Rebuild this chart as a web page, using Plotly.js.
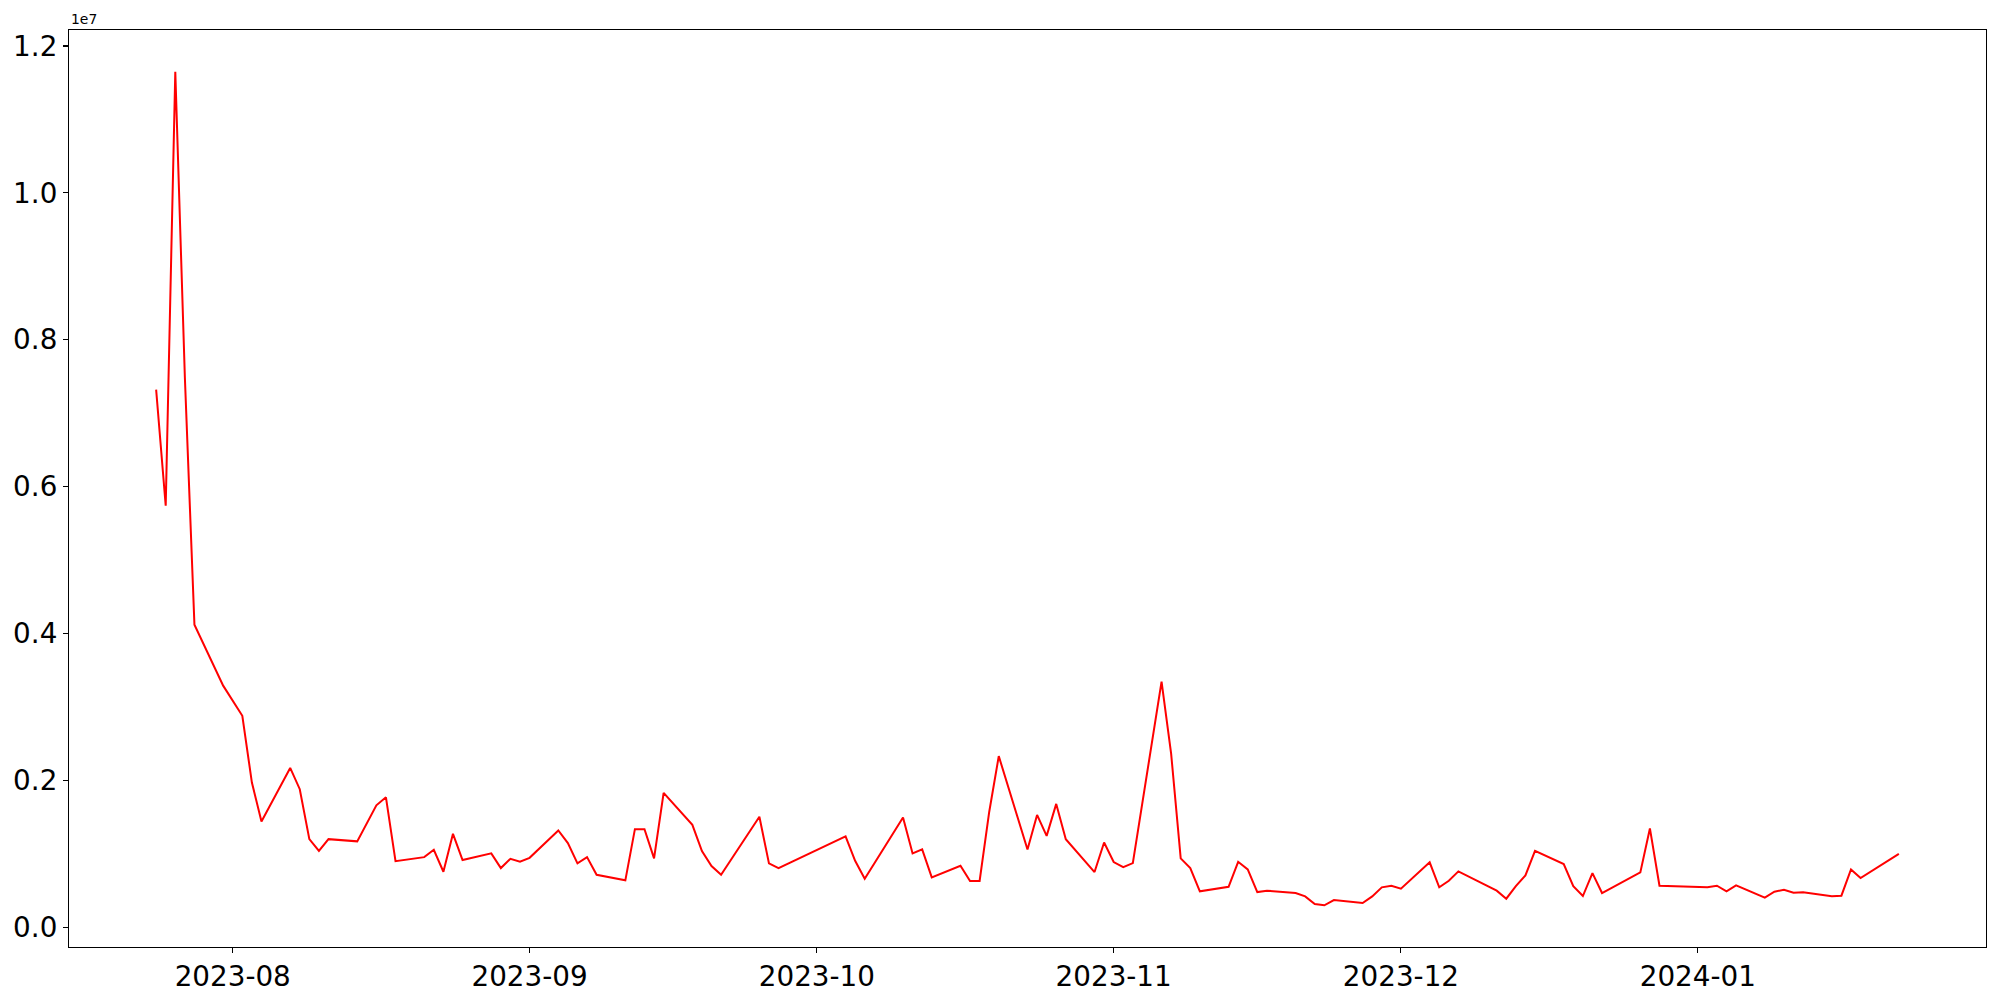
<!DOCTYPE html>
<html>
<head>
<meta charset="utf-8">
<script src="https://cdn.plot.ly/plotly-3.0.1.min.js"></script>
<style>html,body{margin:0;padding:0;background:#fff;}#chart{width:2000px;height:1000px;}</style>
</head>
<body>
<div id="chart"></div>
<script>
const dates = [
  "2023-07-24","2023-07-25","2023-07-26","2023-07-27","2023-07-28","2023-07-31",
  "2023-08-02","2023-08-03","2023-08-04","2023-08-07","2023-08-08","2023-08-09","2023-08-10","2023-08-11",
  "2023-08-14","2023-08-16","2023-08-17","2023-08-18","2023-08-21","2023-08-22","2023-08-23","2023-08-24","2023-08-25",
  "2023-08-28","2023-08-29","2023-08-30","2023-08-31","2023-09-01","2023-09-04","2023-09-05","2023-09-06","2023-09-07","2023-09-08",
  "2023-09-11","2023-09-12","2023-09-13","2023-09-14","2023-09-15","2023-09-18","2023-09-19","2023-09-20","2023-09-21",
  "2023-09-25","2023-09-26","2023-09-27","2023-10-04","2023-10-05","2023-10-06","2023-10-10","2023-10-11","2023-10-12","2023-10-13",
  "2023-10-16","2023-10-17","2023-10-18","2023-10-19","2023-10-20","2023-10-23","2023-10-24","2023-10-25","2023-10-26","2023-10-27",
  "2023-10-30","2023-10-31","2023-11-01","2023-11-02","2023-11-03","2023-11-06","2023-11-07","2023-11-08","2023-11-09","2023-11-10",
  "2023-11-13","2023-11-14","2023-11-15","2023-11-16","2023-11-17","2023-11-20","2023-11-21","2023-11-22","2023-11-23","2023-11-24",
  "2023-11-27","2023-11-28","2023-11-29","2023-11-30","2023-12-01","2023-12-04","2023-12-05","2023-12-06","2023-12-07",
  "2023-12-11","2023-12-12","2023-12-13","2023-12-14","2023-12-15","2023-12-18","2023-12-19","2023-12-20","2023-12-21","2023-12-22",
  "2023-12-26","2023-12-27","2023-12-28","2024-01-02","2024-01-03","2024-01-04","2024-01-05","2024-01-08","2024-01-09","2024-01-10",
  "2024-01-11","2024-01-12","2024-01-15","2024-01-16","2024-01-17","2024-01-18","2024-01-22"
];
const values = [
  7320000,5740000,11650000,7490000,4120000,3290000,
  2880000,1970000,1440000,2170000,1880000,1200000,1040000,1200000,
  1170000,1660000,1770000,900000,955000,1055000,756000,1273000,915000,
  1006000,806000,933000,892000,946000,1318000,1146000,870000,955000,715000,
  639000,1336000,1336000,938000,1830000,1395000,1037000,833000,715000,
  1504000,870000,806000,1237000,905000,660000,1495000,1006000,1060000,680000,
  838000,630000,630000,1570000,2330000,1060000,1530000,1245000,1680000,1200000,
  752000,1155000,888000,820000,874000,3344000,2365000,938000,806000,489000,
  552000,892000,788000,480000,498000,466000,421000,317000,299000,371000,
  330000,421000,544000,566000,525000,884000,544000,634000,761000,
  498000,389000,561000,707000,1041000,861000,561000,425000,738000,466000,
  748000,1346000,566000,544000,566000,489000,571000,403000,484000,511000,
  471000,476000,421000,430000,788000,670000,1000000
];
const yTickVals = [0, 2000000, 4000000, 6000000, 8000000, 10000000, 12000000];
const yTickText = ["0.0", "0.2", "0.4", "0.6", "0.8", "1.0", "1.2"];
const offsetLabel = "1e7";

const trace = {
  x: dates, y: values, type: "scatter", mode: "lines",
  line: {color: "red", width: 2}, hoverinfo: "x+y"
};
const tickFont = {family: "DejaVu Sans", size: 27.8, color: "black"};
const layout = {
  width: 2000, height: 1000,
  margin: {l: 69, r: 14, t: 30, b: 53, pad: 0},
  paper_bgcolor: "white", plot_bgcolor: "white",
  showlegend: false,
  font: {family: "DejaVu Sans", color: "black"},
  xaxis: {
    type: "date",
    range: ["2023-07-14 21:36", "2024-01-31 02:24"],
    dtick: "M1", tick0: "2023-08-01", tickformat: "%Y-%m",
    ticks: "outside", ticklen: 5, tickwidth: 1.1, tickcolor: "black",
    showgrid: false, zeroline: false,
    showline: true, mirror: true, linecolor: "black", linewidth: 1.1,
    tickfont: tickFont
  },
  yaxis: {
    range: [-268550, 12217550],
    tickmode: "array", tickvals: yTickVals, ticktext: yTickText,
    ticks: "outside", ticklen: 5, tickwidth: 1.1, tickcolor: "black",
    showgrid: false, zeroline: false,
    showline: true, mirror: true, linecolor: "black", linewidth: 1.1,
    tickfont: tickFont
  },
  annotations: [{
    text: offsetLabel, xref: "paper", yref: "paper", x: 0, y: 1,
    xanchor: "left", yanchor: "bottom", showarrow: false, yshift: 1,
    font: {family: "DejaVu Sans", size: 13.9, color: "black"}
  }]
};
Plotly.newPlot("chart", [trace], layout, {displayModeBar: false, staticPlot: true});
</script>
</body>
</html>
